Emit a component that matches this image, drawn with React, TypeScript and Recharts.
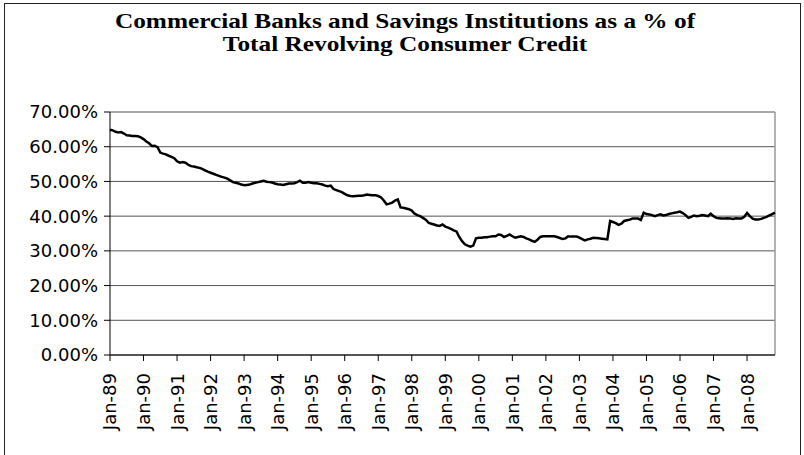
import { CartesianGrid, Line, LineChart, ReferenceLine, XAxis, YAxis } from 'recharts';

// #region Sample data
const monthNames = ['Jan', 'Feb', 'Mar', 'Apr', 'May', 'Jun', 'Jul', 'Aug', 'Sep', 'Oct', 'Nov', 'Dec'];
const firstYear = 1989;

// share of revolving credit held by banks + savings institutions, %, monthly from Jan-89
const sharePct = [
    64.9, 64.7, 64.3, 64.1, 64.2, 63.8, 63.3, 63.2, 63.1, 63.1, 63.0, 62.7, // 89
    62.2, 61.5, 61.0, 60.2, 60.3, 59.9, 58.3, 58.0, 57.8, 57.4, 57.1, 56.7, // 90
    55.8, 55.4, 55.6, 55.4, 54.8, 54.4, 54.3, 54.1, 53.9, 53.6, 53.2, 52.8, // 91
    52.5, 52.2, 51.9, 51.6, 51.3, 51.1, 50.8, 50.3, 49.8, 49.6, 49.4, 49.1, // 92
    48.9, 49.0, 49.1, 49.4, 49.6, 49.8, 50.0, 50.2, 49.9, 49.8, 49.7, 49.4, // 93
    49.2, 49.1, 49.0, 49.2, 49.4, 49.4, 49.5, 49.8, 50.2, 49.6, 49.6, 49.8, // 94
    49.6, 49.5, 49.5, 49.3, 49.1, 48.8, 48.6, 48.8, 47.8, 47.5, 47.2, 46.9, // 95
    46.4, 46.0, 45.8, 45.7, 45.8, 45.9, 45.9, 46.0, 46.2, 46.1, 46.0, 46.0, // 96
    45.8, 45.4, 44.5, 43.4, 43.6, 43.9, 44.5, 44.8, 42.5, 42.4, 42.2, 42.0, // 97
    41.6, 40.7, 40.3, 40.0, 39.5, 39.0, 38.1, 37.8, 37.6, 37.3, 37.2, 37.6, // 98
    37.0, 36.7, 36.3, 35.9, 35.6, 34.0, 32.8, 31.9, 31.5, 31.2, 31.5, 33.6, // 99
    33.8, 33.8, 33.9, 33.9, 34.1, 34.2, 34.2, 34.7, 34.6, 34.0, 34.3, 34.7, // 00
    34.2, 33.8, 34.0, 34.2, 34.0, 33.6, 33.3, 32.9, 32.6, 33.2, 34.0, 34.2, // 01
    34.2, 34.2, 34.2, 34.2, 34.0, 33.7, 33.4, 33.6, 34.2, 34.1, 34.1, 34.1, // 02
    33.8, 33.4, 33.0, 33.3, 33.5, 33.8, 33.7, 33.6, 33.5, 33.4, 33.3, 38.6, // 03
    38.3, 38.0, 37.5, 37.8, 38.6, 38.8, 39.0, 39.3, 39.3, 39.3, 38.9, 41.0, // 04
    40.6, 40.5, 40.3, 40.0, 40.3, 40.5, 40.2, 40.3, 40.6, 40.8, 41.0, 41.1, // 05
    41.3, 40.9, 40.3, 39.5, 39.8, 40.2, 40.0, 40.1, 40.3, 40.2, 40.0, 40.7, // 06
    40.0, 39.5, 39.4, 39.3, 39.3, 39.4, 39.3, 39.2, 39.4, 39.3, 39.3, 39.8, // 07
    40.9, 40.0, 39.3, 39.0, 39.0, 39.2, 39.5, 39.8, 40.2, 40.6, 41.0, // 08
];

const yTicks = [0, 10, 20, 30, 40, 50, 60, 70];
// #endregion

const monthLabel = (i: number) =>
    `${monthNames[i % 12]}-${String((firstYear + Math.floor(i / 12)) % 100).padStart(2, '0')}`;

const data = sharePct.map((v, i) => ({ month: monthLabel(i), share: v }));
const lastMonth = data[data.length - 1].month;

const axisFont = '"DejaVu Sans", Verdana, sans-serif';

const MonthTick = ({ x, y, payload }: any) => (
    <text
        x={x}
        y={y + 10}
        transform={`rotate(-90, ${x}, ${y + 10})`}
        textAnchor="end"
        dy="0.36em"
        fontSize={18}
        fontFamily={axisFont}
        fill="#000"
    >
        {payload.value}
    </text>
);

export default function App() {
    return (
        <div style={{ position: 'absolute', left: 0, top: 0, width: 804, height: 455, overflow: 'hidden', background: '#fff' }}>
            <div style={{ position: 'absolute', left: 4, top: 3, width: 795, height: 470, border: '1px solid #222' }} />
            <div
                style={{
                    position: 'absolute',
                    left: 0,
                    top: 9,
                    width: 810,
                    textAlign: 'center',
                    fontFamily: '"Liberation Serif", "Times New Roman", serif',
                    fontWeight: 'bold',
                    fontSize: 22,
                    lineHeight: '23px',
                    transform: 'scaleX(1.15)',
                    transformOrigin: '405px 0',
                }}
            >
                Commercial Banks and Savings Institutions as a % of
                <br />
                Total Revolving Consumer Credit
            </div>
            <LineChart
                width={804}
                height={455}
                data={data}
                margin={{ top: 112, right: 29, bottom: 20, left: 10 }}
                style={{ position: 'absolute', left: 0, top: 0 }}
            >
                <CartesianGrid vertical={false} stroke="#555" />
                <ReferenceLine x={lastMonth} stroke="#999" strokeWidth={1.5} />
                <XAxis
                    dataKey="month"
                    interval={11}
                    tick={<MonthTick />}
                    tickSize={6}
                    height={80}
                    stroke="#000"
                    tickLine={{ stroke: '#000' }}
                />
                <YAxis
                    domain={[0, 70]}
                    ticks={yTicks}
                    width={100}
                    tickSize={6}
                    tickMargin={6}
                    stroke="#000"
                    tickFormatter={(v: number) => `${v.toFixed(2)}%`}
                    tick={{ fill: '#000', fontSize: 18, fontFamily: axisFont }}
                />
                <Line
                    type="linear"
                    dataKey="share"
                    stroke="#000"
                    strokeWidth={2.5}
                    dot={false}
                    isAnimationActive={false}
                />
            </LineChart>
        </div>
    );
}
